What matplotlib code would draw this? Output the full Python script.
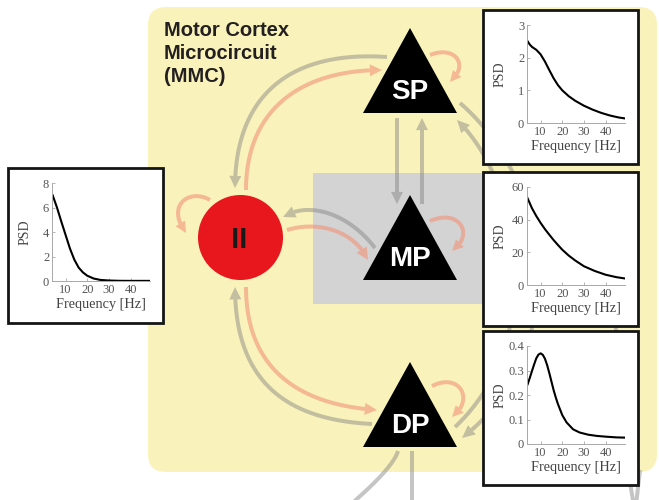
import numpy as np
import matplotlib
matplotlib.use("Agg")
import matplotlib.pyplot as plt
from matplotlib.patches import FancyBboxPatch, Rectangle, Polygon, Circle
from math import comb

# ---------------- data ----------------
freq_ii = [4, 6, 8, 10, 12, 14, 16, 18, 20, 23, 26, 30, 35, 40, 49]
psd_ii = [7.0, 6.0, 4.85, 3.75, 2.65, 1.75, 1.1, 0.7, 0.43, 0.2, 0.09, 0.04, 0.015, 0.01, 0.01]

freq_sp = [4, 5, 6, 8, 10, 12, 14, 16, 18, 20, 23, 26, 30, 34, 38, 42, 46, 49]
psd_sp = [2.50, 2.40, 2.33, 2.24, 2.10, 1.88, 1.62, 1.37, 1.16, 1.0, 0.82, 0.68, 0.53, 0.41, 0.31, 0.23, 0.17, 0.14]

freq_mp = [4, 6, 8, 10, 12, 14, 16, 18, 20, 23, 26, 30, 35, 40, 45, 49]
psd_mp = [53, 47, 42.2, 38, 34.2, 30.8, 27.5, 24.5, 21.6, 18, 15, 11.5, 8.6, 6.3, 4.8, 4.0]

freq_dp = [4, 5, 6, 7, 8, 9, 10, 11, 12, 13, 14, 15, 16, 17, 18, 20, 22, 25, 28, 32, 36, 40, 45, 49]
psd_dp = [0.244, 0.27, 0.298, 0.325, 0.35, 0.365, 0.37, 0.364, 0.348, 0.322, 0.29, 0.255, 0.22,
          0.19, 0.163, 0.118, 0.088, 0.06, 0.047, 0.038, 0.033, 0.03, 0.027, 0.026]

x_ticks = [10, 20, 30, 40]
yticks_ii = [0, 2, 4, 6, 8]
yticks_sp = [0, 1, 2, 3]
yticks_mp = [0, 20, 40, 60]
yticks_dp = [0, 0.1, 0.2, 0.3, 0.4]
ytick_labels_dp = ["0", "0.1", "0.2", "0.3", "0.4"]
node_labels = ["SP", "MP", "DP", "II"]
title_lines = ["Motor Cortex", "Microcircuit", "(MMC)"]

# ---------------- figure ----------------
W, H = 659, 500
fig = plt.figure(figsize=(W / 100, H / 100), dpi=100)
ax = fig.add_axes([0, 0, 1, 1])
ax.set_xlim(0, W)
ax.set_ylim(H, 0)
ax.axis("off")

YELLOW = "#f9f3bb"
GRAYBOX = "#d3d3d3"
GRAY = "#7f7f7f"
GRAY_A = 0.45
SALMON = "#f29177"
SALMON_A = 0.6
PX = 0.72  # points per pixel

ax.add_patch(FancyBboxPatch((148, 7), 657 - 148, 472 - 7,
                            boxstyle="round,pad=0,rounding_size=18",
                            fc=YELLOW, ec="none", zorder=0))
ax.add_patch(Rectangle((313, 173), 180, 131, fc=GRAYBOX, ec="none", zorder=1))


def bezier(pts, n=300):
    pts = np.asarray(pts, float)
    k = len(pts) - 1
    t = np.linspace(0, 1, n)[:, None]
    return sum(comb(k, i) * (1 - t) ** (k - i) * t ** i * pts[i] for i in range(k + 1))


def arrow(pts, color, alpha, lw=4, head=True, L=12, Wd=12):
    c = bezier(pts)
    if head:
        tip = c[-1]
        d = np.hypot(*(c - tip).T)
        idx = np.where(d >= L)[0][-1]
        line = c[: idx + 1]
        base = c[idx]
        u = (tip - base) / np.hypot(*(tip - base))
        nrm = np.array([-u[1], u[0]])
        ax.add_patch(Polygon([tip, base + nrm * Wd / 2, base - nrm * Wd / 2],
                             closed=True, fc=color, ec="none", alpha=alpha, zorder=3))
    else:
        line = c
    ax.plot(line[:, 0], line[:, 1], color=color, alpha=alpha, lw=lw * PX,
            solid_capstyle="butt", zorder=3)


def g(pts, **kw):
    arrow(pts, GRAY, GRAY_A, **kw)


def s(pts, **kw):
    arrow(pts, SALMON, SALMON_A, **kw)


# right side long arcs (SP <-> DP) and external lines
g([(460, 103), (550, 180), (575, 350), (462, 438)])
g([(455, 427), (548, 340), (520, 180), (457, 120)])
g([(605, 250), (618, 300), (622, 450), (634, 505)], head=False)
g([(640, 470), (636, 505)], head=False)
g([(398, 451), (393, 468), (350, 505)], head=False)
g([(412, 451), (412, 505)], head=False)

# SP <-> II
g([(387, 57), (285, 50), (235, 100), (235, 188)])
s([(246, 190), (246, 110), (300, 70), (382, 70)])
# SP <-> MP
g([(397, 118), (397, 204)])
g([(422, 204), (422, 118)])
# MP <-> II
g([(375, 248), (350, 215), (310, 200), (283, 217)])
s([(287, 230), (320, 220), (355, 232), (368, 260)])
# DP <-> II
s([(246, 287), (246, 370), (300, 405), (377, 410)])
g([(372, 424), (290, 420), (235, 385), (235, 287)])
# self loops
s([(430, 55), (455, 45), (470, 65), (450, 82)], L=11, Wd=11)
s([(210, 200), (190, 188), (165, 205), (186, 233)], L=11, Wd=11)
s([(430, 221), (460, 208), (475, 235), (452, 251)], L=11, Wd=11)
s([(432, 386), (460, 372), (475, 400), (452, 417)], L=11, Wd=11)

# nodes
node_fp = dict(family="Liberation Sans", weight="bold", fontsize=20)
for apex_y, lab in zip([28, 195, 362], node_labels[:3]):
    ax.add_patch(Polygon([(410, apex_y), (363, apex_y + 85), (457, apex_y + 85)],
                         closed=True, fc="black", ec="none", zorder=5))
    ax.text(410, apex_y + 71, lab, color="white", ha="center", va="baseline",
            zorder=6, **node_fp)
ax.add_patch(Circle((240.5, 237.5), 42.5, fc="#e8161d", ec="none", zorder=5))
ax.text(239.5, 248, node_labels[3], color="#1a1a1a", ha="center", va="baseline",
        zorder=6, family="Liberation Sans", weight="bold", fontsize=21)

for yb, line in zip([36, 59, 82], title_lines):
    ax.text(164, yb, line, ha="left", va="baseline", family="Liberation Sans",
            weight="bold", fontsize=14.5, color="#231f20", zorder=6)

# ---------------- insets ----------------
insets = [
    ((8, 168, 163, 323), freq_ii, psd_ii, (0, 8), yticks_ii, None),
    ((483, 10, 638, 164), freq_sp, psd_sp, (0, 3), yticks_sp, None),
    ((483, 172, 638, 326), freq_mp, psd_mp, (0, 60), yticks_mp, None),
    ((483, 331, 638, 485), freq_dp, psd_dp, (0, 0.4), yticks_dp, ytick_labels_dp),
]
serif = "Liberation Serif"
for (bx0, by0, bx1, by1), fx, fy, ylim, yt, ytl in insets:
    ax.add_patch(Rectangle((bx0, by0), bx1 - bx0, by1 - by0, fc="white",
                           ec="#151515", lw=2.0, zorder=10))
    l, t = bx0 + 44, by0 + 15
    ia = fig.add_axes([l / W, 1 - (t + 98) / H, 98 / W, 98 / H])
    ia.set_facecolor("none")
    ia.plot(fx, fy, color="black", lw=1.5)
    ia.set_xlim(3.7, 49)
    ia.set_ylim(*ylim)
    ia.set_xticks(x_ticks)
    ia.set_yticks(yt)
    if ytl is not None:
        ia.set_yticklabels(ytl)
    for sp in ["top", "right"]:
        ia.spines[sp].set_visible(False)
    for sp in ["left", "bottom"]:
        ia.spines[sp].set_color("#a8a8a8")
        ia.spines[sp].set_linewidth(0.7)
    ia.tick_params(direction="in", length=2, width=0.6, color="#a8a8a8",
                   labelcolor="#555555", labelsize=9, pad=2)
    for lab in ia.get_xticklabels() + ia.get_yticklabels():
        lab.set_family(serif)
    ia.set_xlabel("Frequency [Hz]", family=serif, fontsize=10.3, color="#444444")
    ia.set_ylabel("PSD", family=serif, fontsize=10, color="#444444")
    ia.xaxis.set_label_coords(0.5, -0.17)
    ia.yaxis.set_label_coords(-0.21, 0.5)

fig.savefig("out.png", dpi=100)
